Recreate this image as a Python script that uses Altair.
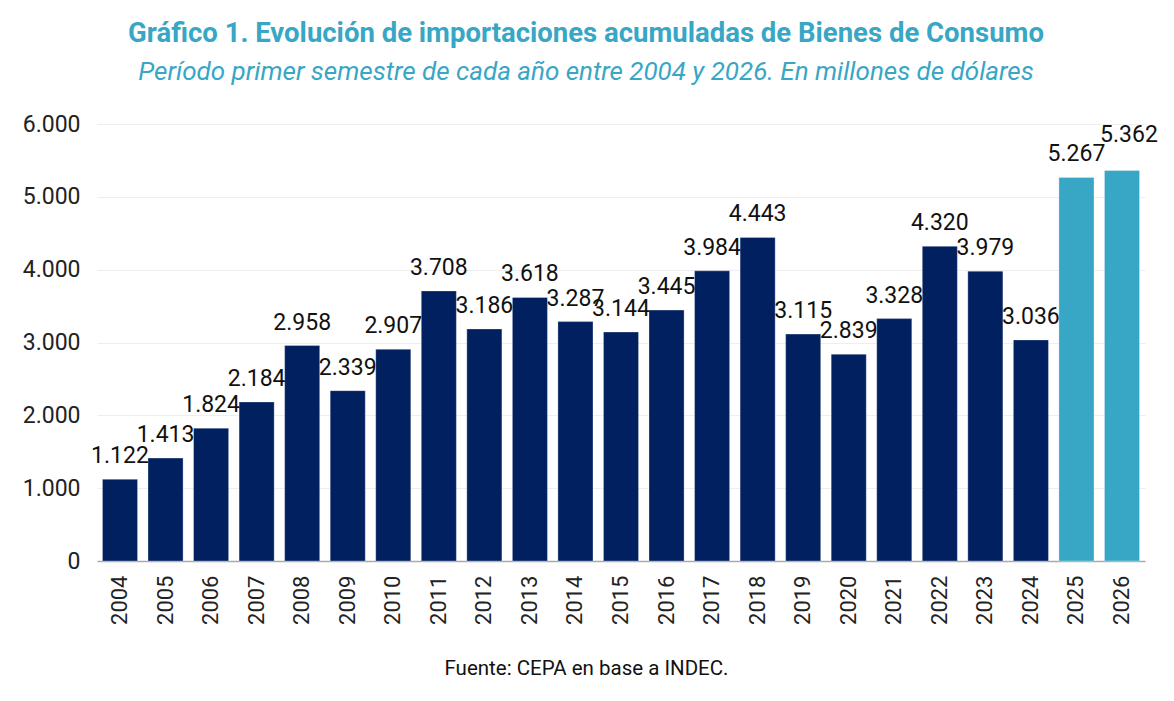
import altair as alt
import pandas as pd

years = [str(y) for y in range(2004, 2027)]
values = [1122, 1413, 1824, 2184, 2958, 2339, 2907, 3708, 3186, 3618, 3287, 3144,
          3445, 3984, 4443, 3115, 2839, 3328, 4320, 3979, 3036, 5267, 5362]
groups = ["past"] * 21 + ["recent"] * 2

df = pd.DataFrame({"year": years, "value": values, "group": groups})
df["label"] = [f"{v:,}".replace(",", ".") for v in values]

FONT = "Roboto"

base = alt.Chart(df)

bars = base.mark_bar(stroke="white", strokeOpacity=0.3, strokeWidth=1).encode(
    x=alt.X("year:N", sort=years,
            scale=alt.Scale(paddingInner=0.23, paddingOuter=0.12),
            axis=alt.Axis(title="Fuente: CEPA en base a INDEC.", labelAngle=-90,
                          labelFontSize=22, labelColor="#222222", labelFont=FONT,
                          labelPadding=14, labelBaseline="middle", labelAlign="right",
                          ticks=False, domainColor="#aaaaaa", domainWidth=1.5,
                          titleFont=FONT, titleFontSize=20.5, titleFontWeight="normal",
                          titleColor="#111111", titlePadding=34, titleX=489)),
    y=alt.Y("value:Q", scale=alt.Scale(domain=[0, 6000], nice=False),
            axis=alt.Axis(title=None, values=[0, 1000, 2000, 3000, 4000, 5000, 6000],
                          labelExpr="replace(format(datum.value, ','), ',', '.')",
                          labelFontSize=23, labelColor="#222222", labelFont=FONT,
                          labelPadding=17, ticks=False, domain=False,
                          gridColor="#eeeeee", gridWidth=1)),
    color=alt.Color("group:N", scale=alt.Scale(domain=["past", "recent"],
                                               range=["#002060", "#38a6c5"]),
                    legend=None),
)

text_enc = dict(x=alt.X("year:N", sort=years), y="value:Q", text="label:N")

labels = base.transform_filter(alt.datum.year != "2026").mark_text(
    fontSize=23, font=FONT, color="#111111", baseline="alphabetic", dy=-16
).encode(**text_enc)

label_last = base.transform_filter(alt.datum.year == "2026").mark_text(
    fontSize=23, font=FONT, color="#111111", baseline="alphabetic", dy=-28, dx=7
).encode(**text_enc)

chart = (bars + labels + label_last).properties(
    width=1048, height=437,
    padding={"left": 89, "top": 116, "right": 21, "bottom": 120},
    autosize=alt.AutoSizeParams(type="none"),
    title=alt.TitleParams(
        "Gráfico 1. Evolución de importaciones acumuladas de Bienes de Consumo",
        subtitle="Período primer semestre de cada año entre 2004 y 2026. En millones de dólares",
        font=FONT, fontSize=27.5, fontWeight="bold", color="#38a6c5",
        subtitleFont=FONT, subtitleFontSize=26, subtitleFontStyle="italic",
        subtitleColor="#38a6c5", subtitlePadding=12, anchor="middle", offset=28,
        dx=-35,
    ),
).configure_view(stroke=None)

chart.save("out.html", embed_options={"renderer": "svg", "actions": False})
